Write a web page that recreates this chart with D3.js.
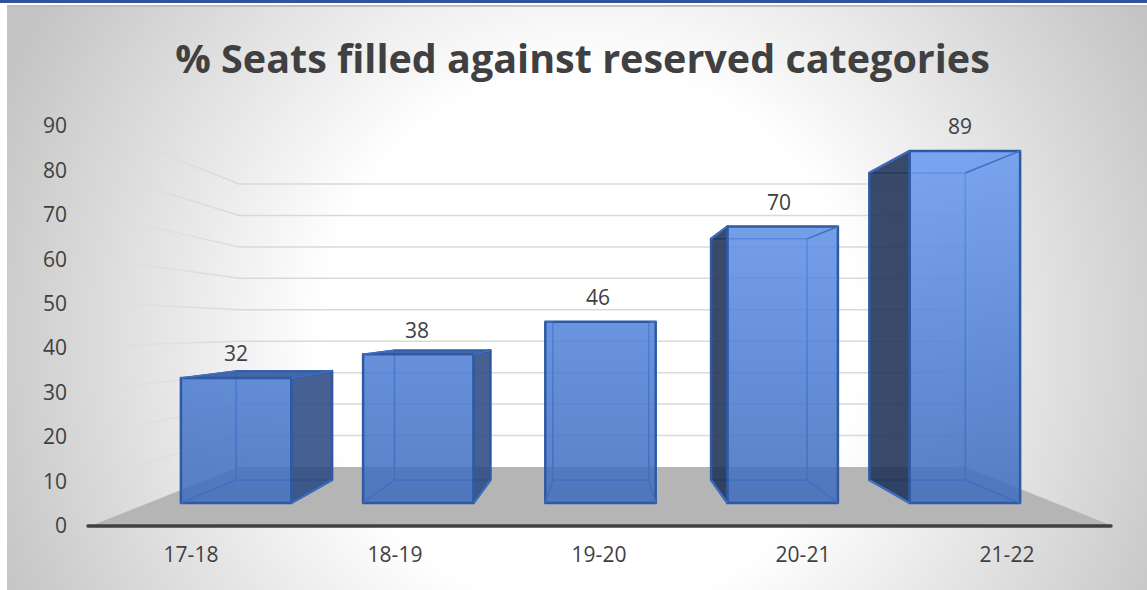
<!DOCTYPE html>
<html>
<head>
<meta charset="utf-8">
<script src="https://cdn.jsdelivr.net/npm/d3@7"></script>
<style>
  html, body { margin: 0; padding: 0; background: #fff; overflow: hidden; }
  text { font-family: "Open Sans", sans-serif; fill: #404040; }
</style>
</head>
<body>
<div id="chart"></div>
<script>
// chart values
var categories = ["17-18", "18-19", "19-20", "20-21", "21-22"];
var values = [31.6, 37.6, 45.8, 69.9, 89];
var yTicks = [0, 10, 20, 30, 40, 50, 60, 70, 80, 90];
var titleText = "% Seats filled against reserved categories";

var svgWidth = 1147;
var svgHeight = 590;

var svg = d3.select("#chart").append("svg")
  .attr("width", svgWidth)
  .attr("height", svgHeight)
  .style("display", "block");

var defs = svg.append("defs");

var bgGrad = defs.append("radialGradient")
  .attr("id", "bgGrad")
  .attr("gradientUnits", "userSpaceOnUse")
  .attr("cx", 590).attr("cy", 340).attr("r", 640);
bgGrad.append("stop").attr("offset", 0.42).attr("stop-color", "#ffffff");
bgGrad.append("stop").attr("offset", 1).attr("stop-color", "#c4c4c4");

var frontGrad = defs.append("linearGradient")
  .attr("id", "frontGrad")
  .attr("gradientUnits", "userSpaceOnUse")
  .attr("x1", 0).attr("y1", 150).attr("x2", 0).attr("y2", 503);
frontGrad.append("stop").attr("offset", 0).attr("stop-color", "#6899ee");
frontGrad.append("stop").attr("offset", 0.65).attr("stop-color", "#4a7bd0");
frontGrad.append("stop").attr("offset", 1).attr("stop-color", "#3f6cbc");

var wallGrad = defs.append("linearGradient")
  .attr("id", "wallGrad")
  .attr("gradientUnits", "userSpaceOnUse")
  .attr("x1", 88).attr("y1", 0).attr("x2", 239).attr("y2", 0);
wallGrad.append("stop").attr("offset", 0).attr("stop-color", "#d9d9d9").attr("stop-opacity", 0.1);
wallGrad.append("stop").attr("offset", 1).attr("stop-color", "#d9d9d9");

// page furniture
svg.append("rect").attr("width", svgWidth).attr("height", 3).attr("fill", "#2f5597");
svg.append("rect").attr("x", 7).attr("y", 6).attr("width", svgWidth - 7).attr("height", svgHeight - 6)
  .attr("fill", "url(#bgGrad)");
svg.append("rect").attr("x", 7).attr("y", 5).attr("width", svgWidth - 7).attr("height", 2)
  .attr("fill", "#bdbdbd");

svg.append("text")
  .attr("x", 582.5)
  .attr("y", 73)
  .attr("text-anchor", "middle")
  .style("font-size", "39.5px")
  .style("font-weight", 700)
  .text(titleText);

// the chart is drawn on four planes, each one with its own scales
var xAxisScale = d3.scaleBand().domain(categories).range([89, 1109]);
var xFront = d3.scaleBand().domain(categories).range([145, 1056]).paddingInner(0.394).paddingOuter(0.197);
var xBack = d3.scaleBand().domain(categories).range([205, 996.5]).paddingInner(0.394).paddingOuter(0.197);
var xLabel = d3.scaleBand().domain(categories).range([145.5, 1050.5]);

var yAxisScale = d3.scaleLinear().domain([0, 90]).range([525, 125]);
var yWall = d3.scaleLinear().domain([0, 90]).range([467, 184]);
var yFront = d3.scaleLinear().domain([0, 90]).range([503, 147]);
var yBack = d3.scaleLinear().domain([0, 90]).range([480, 169.5]);

var wallLeft = 239;
var wallRight = 966;
var frontLeft = 88;

// floor
svg.append("polygon")
  .attr("points", [[93, 525], [wallLeft, yWall(0)], [wallRight, yWall(0)], [1110, 525]].join(" "))
  .attr("fill", "#b5b5b5");

// gridlines, back wall and left wall
var gridTicks = yTicks.filter(function (d) { return d > 0; });

svg.selectAll(".gridBack")
  .data(gridTicks)
  .enter()
  .append("line")
  .attr("class", "gridBack")
  .attr("x1", wallLeft)
  .attr("x2", wallRight)
  .attr("y1", function (d) { return yWall(d); })
  .attr("y2", function (d) { return yWall(d); })
  .attr("stroke", "#d9d9d9")
  .attr("stroke-width", 1.5);

svg.selectAll(".gridLeft")
  .data(gridTicks)
  .enter()
  .append("polyline")
  .attr("class", "gridLeft")
  .attr("points", function (d) {
    return [[frontLeft, yAxisScale(d) - 1], [wallLeft, yWall(d)]].join(" ");
  })
  .attr("fill", "none")
  .attr("stroke", "url(#wallGrad)")
  .attr("stroke-width", 1.5);

// bars
var edgeColor = "#2f5aa3";
var innerColor = "#3f6fc2";

function poly(g, pts, fill, opacity, stroke, width) {
  g.append("polygon")
    .attr("points", pts.join(" "))
    .attr("fill", fill)
    .attr("fill-opacity", opacity)
    .attr("stroke", stroke)
    .attr("stroke-width", width)
    .attr("stroke-linejoin", "round");
}

categories.forEach(function (cat, i) {
  var v = values[i];
  var fl = xFront(cat), fr = fl + xFront.bandwidth();
  var bl = xBack(cat), br = bl + xBack.bandwidth();
  var f0 = yFront(0), fv = yFront(v);
  var b0 = yBack(0), bv = yBack(v);

  var g = svg.append("g").attr("class", "bar");

  // back edges, seen through the front
  g.append("polyline")
    .attr("points", [[bl, b0], [bl, bv], [br, bv], [br, b0], [bl, b0]].join(" "))
    .attr("fill", "none")
    .attr("stroke", innerColor)
    .attr("stroke-width", 1.5);

  // side faces show dark only where they stick out of the front
  if (bl < fl - 1) {
    poly(g, [[bl, b0], [bl, bv], [fl, fv], [fl, f0]], "#1f3157", 0.88, edgeColor, 2.5);
  }
  if (br > fr + 1) {
    poly(g, [[br, b0], [br, bv], [fr, fv], [fr, f0]], "#2b4a82", 0.88, edgeColor, 2.5);
  }
  if (bv < fv - 1) {
    poly(g, [[bl, bv], [br, bv], [fr, fv], [fl, fv]], "#3a5fa6", 0.95, edgeColor, 1.5);
  }

  poly(g, [[fl, f0], [fl, fv], [fr, fv], [fr, f0]], "url(#frontGrad)", 0.86, edgeColor, 2.5);

  // receding edges inside the front face
  [[bl, b0, fl, f0], [br, b0, fr, f0], [bl, bv, fl, fv], [br, bv, fr, fv]].forEach(function (e) {
    g.append("line")
      .attr("x1", e[0]).attr("y1", e[1])
      .attr("x2", e[2]).attr("y2", e[3])
      .attr("stroke", innerColor)
      .attr("stroke-width", 1.5);
  });
});

// value labels
svg.selectAll(".valueLabel")
  .data(values)
  .enter()
  .append("text")
  .attr("class", "valueLabel")
  .attr("x", function (d, i) { return xLabel(categories[i]) + xLabel.bandwidth() / 2; })
  .attr("y", function (d) { return yFront(d) - 24; })
  .attr("dy", ".35em")
  .attr("text-anchor", "middle")
  .style("font-size", "21px")
  .text(function (d) { return d3.format(".0f")(d); });

// axes
var yAxis = d3.axisLeft(yAxisScale).tickValues(yTicks).tickSize(0).tickPadding(0);
var xAxis = d3.axisBottom(xAxisScale).tickSize(0).tickPadding(0);

var yAxisG = svg.append("g")
  .attr("transform", "translate(67, 1)")
  .call(yAxis);
yAxisG.select(".domain").remove();

var xAxisG = svg.append("g")
  .attr("transform", "translate(0, 547)")
  .call(xAxis);
xAxisG.select(".domain").remove();

svg.selectAll(".tick text")
  .style("font-family", '"Open Sans", sans-serif')
  .style("font-size", "21px")
  .style("fill", "#404040");

svg.append("line")
  .attr("x1", 88)
  .attr("x2", 1111)
  .attr("y1", 526)
  .attr("y2", 526)
  .attr("stroke", "#404040")
  .attr("stroke-width", 3.5)
  .attr("stroke-linecap", "round");
</script>
</body>
</html>
